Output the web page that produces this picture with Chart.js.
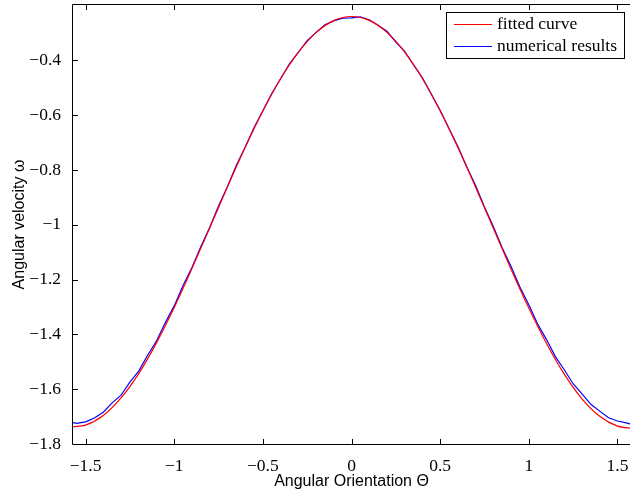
<!DOCTYPE html>
<html>
<head>
<meta charset="utf-8">
<script src="https://cdn.jsdelivr.net/npm/chart.js@4/dist/chart.umd.min.js"></script>
<style>
  html, body { margin: 0; padding: 0; background: #fff; }
  canvas { display: block; }
</style>
</head>
<body>
<canvas id="plot" width="630" height="493"></canvas>
<script>
// fitted curve (red)
const thetaFit = [-1.5708, -1.5, -1.4, -1.3, -1.2, -1.1, -1.0, -0.9, -0.8, -0.7, -0.6, -0.5, -0.4, -0.3, -0.2, -0.1,
  0, 0.1, 0.2, 0.3, 0.4, 0.5, 0.6, 0.7, 0.8, 0.9, 1.0, 1.1, 1.2, 1.3, 1.4, 1.5, 1.5708];
const omegaFit = [-1.737, -1.731, -1.696, -1.632, -1.543, -1.431, -1.302, -1.160, -1.012, -0.862, -0.718, -0.585, -0.467, -0.371, -0.299, -0.255,
  -0.240, -0.254, -0.298, -0.370, -0.466, -0.585, -0.718, -0.863, -1.013, -1.162, -1.304, -1.433, -1.545, -1.635, -1.699, -1.735, -1.742];

// numerical results (blue)
const thetaNum = [-1.5708, -1.55, -1.5, -1.45, -1.4, -1.35, -1.3, -1.25, -1.2, -1.15, -1.1, -1.05, -1.0, -0.95, -0.9, -0.85,
  -0.8, -0.75, -0.7, -0.65, -0.6, -0.55, -0.5, -0.45, -0.4, -0.35, -0.3, -0.25, -0.2, -0.15, -0.1, -0.05,
  0, 0.05, 0.1, 0.15, 0.2, 0.25, 0.3, 0.35, 0.4, 0.45, 0.5, 0.55, 0.6, 0.65, 0.7, 0.75,
  0.8, 0.85, 0.9, 0.95, 1.0, 1.05, 1.1, 1.15, 1.2, 1.25, 1.3, 1.35, 1.4, 1.45, 1.5, 1.55, 1.5708];
const omegaNum = [-1.722, -1.725, -1.719, -1.705, -1.684, -1.650, -1.622, -1.574, -1.534, -1.476, -1.424, -1.357, -1.296, -1.222, -1.156, -1.080,
  -1.010, -0.931, -0.861, -0.784, -0.717, -0.646, -0.584, -0.521, -0.467, -0.413, -0.371, -0.328, -0.298, -0.270, -0.256, -0.246,
  -0.245, -0.241, -0.252, -0.272, -0.294, -0.333, -0.367, -0.417, -0.464, -0.523, -0.582, -0.649, -0.714, -0.788, -0.857, -0.935,
  -1.006, -1.084, -1.152, -1.227, -1.292, -1.362, -1.419, -1.481, -1.529, -1.580, -1.617, -1.655, -1.680, -1.704, -1.716, -1.723, -1.727];

const xTickValues = [-1.5, -1, -0.5, 0, 0.5, 1, 1.5];
const yTickValues = [-1.8, -1.6, -1.4, -1.2, -1, -0.8, -0.6, -0.4];

const SERIF = '"Liberation Serif", "Times New Roman", serif';
const SANS  = '"Liberation Sans", Arial, sans-serif';

const fmtTick = v => {
  const s = String(Math.round(v * 10) / 10);
  return s.replace('-', '\u2212');
};

const noPad = s => {
  s.paddingTop = 0; s.paddingBottom = 0; s.paddingLeft = 0; s.paddingRight = 0;
};

// MATLAB-style frame, inward ticks and boxed legend
const matlabFrame = {
  id: 'matlabFrame',
  afterDraw(chart) {
    const { ctx, chartArea: a, scales: { x, y } } = chart;
    const tick = 5;
    ctx.save();
    ctx.strokeStyle = '#000';
    ctx.lineWidth = 1;
    ctx.beginPath();
    ctx.moveTo(a.left - 0.5, a.bottom + 0.5);
    ctx.lineTo(a.right + 2, a.bottom + 0.5);
    ctx.moveTo(a.left - 0.5, a.bottom + 0.5);
    ctx.lineTo(a.left - 0.5, a.top - 0.5);
    ctx.lineTo(a.right + 2, a.top - 0.5);
    xTickValues.forEach(v => {
      const px = Math.round(x.getPixelForValue(v)) + 0.5;
      ctx.moveTo(px, a.bottom);
      ctx.lineTo(px, a.bottom - tick);
      ctx.moveTo(px, a.top);
      ctx.lineTo(px, a.top + tick);
    });
    yTickValues.forEach(v => {
      const py = Math.round(y.getPixelForValue(v)) + 0.5;
      ctx.moveTo(a.left, py);
      ctx.lineTo(a.left + tick, py);
    });
    ctx.stroke();

    // legend
    const box = { x: 446.5, y: 12.5, w: 178, h: 46 };
    ctx.fillStyle = '#fff';
    ctx.fillRect(box.x, box.y, box.w, box.h);
    ctx.strokeRect(box.x, box.y, box.w, box.h);
    ctx.font = '17.5px ' + SERIF;
    ctx.textBaseline = 'middle';
    ctx.textAlign = 'left';
    chart.data.datasets.forEach((ds, i) => {
      const ly = 24.5 + i * 22;
      ctx.strokeStyle = ds.borderColor;
      ctx.lineWidth = 1.2;
      ctx.beginPath();
      ctx.moveTo(454, ly);
      ctx.lineTo(492, ly);
      ctx.stroke();
      ctx.fillStyle = '#000';
      ctx.fillText(ds.label, 497, ly);
    });
    ctx.restore();
  }
};

new Chart(document.getElementById('plot'), {
  type: 'line',
  data: {
    datasets: [
      {
        label: 'fitted curve',
        data: thetaFit.map((t, i) => ({ x: t, y: omegaFit[i] })),
        borderColor: '#ff0000',
        borderWidth: 1.2,
        pointRadius: 0,
        cubicInterpolationMode: 'monotone'
      },
      {
        label: 'numerical results',
        data: thetaNum.map((t, i) => ({ x: t, y: omegaNum[i] })),
        borderColor: '#0000ff',
        borderWidth: 1.2,
        pointRadius: 0,
        tension: 0
      }
    ]
  },
  options: {
    responsive: false,
    animation: false,
    layout: { padding: { top: 5, right: 0, bottom: 0, left: 0 } },
    plugins: { legend: { display: false }, tooltip: { enabled: false } },
    scales: {
      x: {
        type: 'linear',
        min: -1.5708,
        max: 1.5708,
        grid: { display: false },
        border: { display: false },
        afterBuildTicks: s => { s.ticks = xTickValues.map(v => ({ value: v })); },
        afterFit: s => { s.height = 49; noPad(s); },
        ticks: {
          color: '#000',
          font: { family: SERIF, size: 17.5 },
          padding: 4,
          maxRotation: 0,
          autoSkip: false,
          callback: v => fmtTick(v)
        },
        title: {
          display: true,
          text: 'Angular Orientation \u0398',
          color: '#000',
          font: { family: SANS, size: 16 },
          padding: { top: 0, bottom: 2 }
        }
      },
      y: {
        type: 'linear',
        min: -1.8,
        max: -0.198,
        grid: { display: false },
        border: { display: false },
        afterBuildTicks: s => { s.ticks = yTickValues.map(v => ({ value: v })); },
        afterFit: s => { s.width = 73; noPad(s); },
        ticks: {
          color: '#000',
          font: { family: SERIF, size: 17.5 },
          padding: 4,
          autoSkip: false,
          callback: v => fmtTick(v)
        },
        title: {
          display: true,
          text: 'Angular velocity \u03c9',
          color: '#000',
          font: { family: SANS, size: 16 },
          padding: { top: 10, bottom: 0 }
        }
      }
    }
  },
  plugins: [matlabFrame]
});
</script>
</body>
</html>
